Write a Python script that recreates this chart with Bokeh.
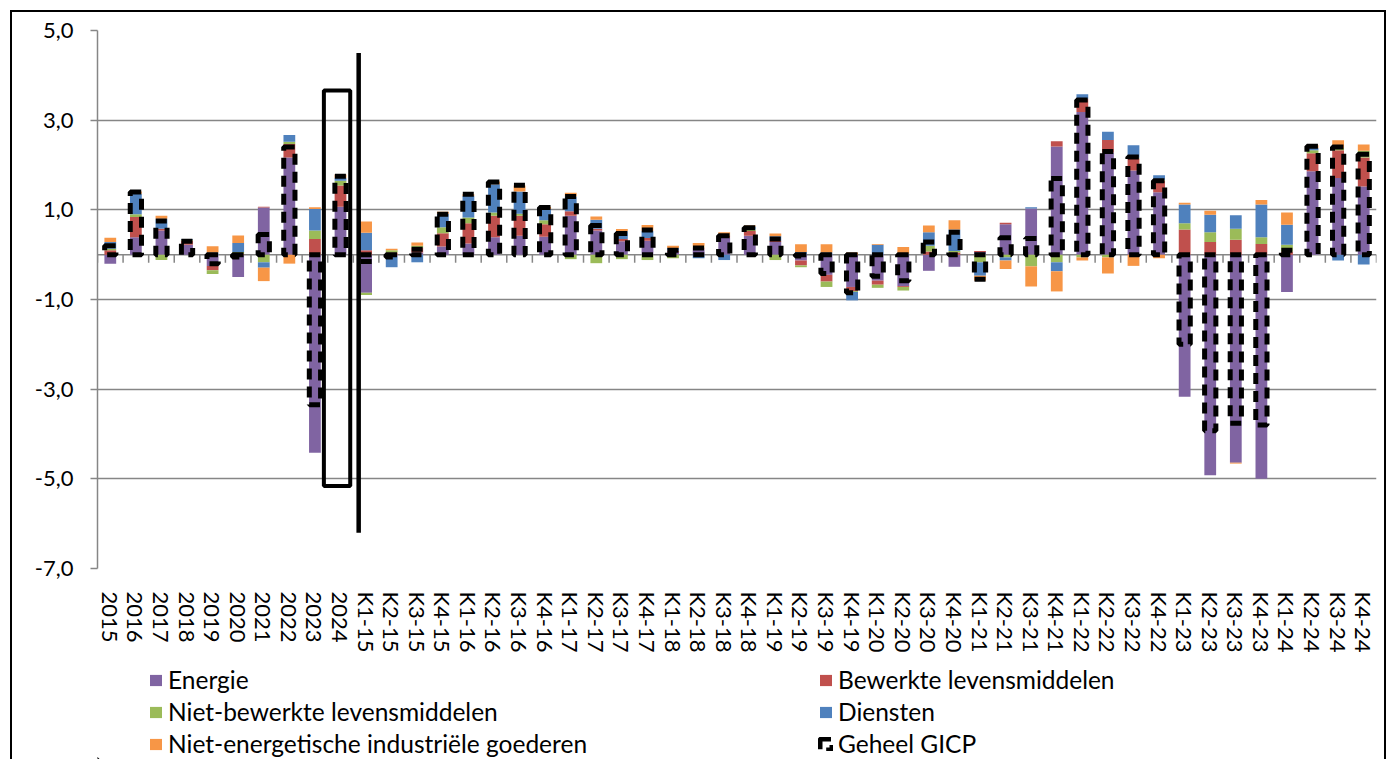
from bokeh.plotting import figure
from bokeh.layouts import column
from bokeh.models import (ColumnDataSource, FactorRange, FixedTicker, Legend, LegendItem,
                          Span, Range1d)
from bokeh.transform import dodge
from bokeh.embed import file_html
from bokeh.resources import INLINE

# ---------------- data ----------------
years = ["2015", "2016", "2017", "2018", "2019", "2020", "2021", "2022", "2023", "2024"]
quarters = [f"K{q}-{y}" for y in range(15, 25) for q in range(1, 5)]
cats = years + quarters

energie = [-0.20, 0.39, 0.54, 0.22, -0.25, -0.50, 1.05, 2.17, -4.42, 1.07,
           -0.85, -0.03, 0.05, 0.18, 0.25, 0.39, 0.42, 0.40, 0.87, 0.54, 0.30, 0.31,
           0.06, 0.12, 0.38, 0.42, 0.28, -0.13, -0.45, -0.72, -0.58, -0.70, -0.36, -0.27,
           0.06, 0.68, 1.03, 2.41, 3.18, 2.28, 1.88, 1.39, -3.17, -4.92, -4.64, -5.00,
           -0.83, 1.86, 1.71, 1.52]
bewerkte = [0.10, 0.45, 0.04, 0.09, -0.10, 0.02, 0.02, 0.30, 0.35, 0.47,
            0.10, 0.05, 0.10, 0.30, 0.45, 0.48, 0.45, 0.28, 0.10, 0.04, 0.05, 0.06,
            0.03, 0.04, 0.05, 0.11, 0.03, -0.11, -0.15, -0.09, -0.09, -0.02, 0.07, 0.05,
            0.02, 0.03, 0.00, 0.12, 0.30, 0.28, 0.26, 0.26, 0.56, 0.28, 0.33, 0.24,
            0.07, 0.40, 0.62, 0.65]
niet_bewerkte = [0.03, 0.06, -0.12, 0.02, -0.08, 0.04, -0.17, 0.05, 0.19, 0.11,
                 -0.05, 0.05, 0.05, 0.13, 0.13, 0.07, 0.04, 0.09, -0.10, -0.19, -0.10, -0.12,
                 -0.08, 0.02, 0.02, 0.03, -0.12, -0.04, -0.12, -0.02, -0.07, -0.08, 0.13, 0.03,
                 -0.17, -0.06, -0.26, -0.17, -0.06, -0.06, 0.02, 0.02, 0.14, 0.22, 0.25, 0.15,
                 0.15, 0.07, 0.05, 0.15]
diensten = [0.15, 0.46, 0.22, 0.02, 0.05, 0.20, -0.12, 0.15, 0.48, 0.06,
            0.39, -0.25, -0.17, 0.30, 0.48, 0.63, 0.50, 0.25, 0.33, 0.20, 0.17, 0.16,
            0.06, -0.08, -0.12, 0.07, 0.10, 0.06, 0.05, -0.19, 0.22, 0.02, 0.30, 0.48,
            -0.30, -0.07, 0.03, -0.20, 0.10, 0.18, 0.28, 0.10, 0.42, 0.39, 0.30, 0.73,
            0.45, 0.05, -0.13, -0.22]
niet_energetisch = [0.10, 0.05, 0.07, 0.00, 0.14, 0.17, -0.30, -0.20, 0.04, 0.08,
                    0.25, 0.03, 0.07, 0.05, 0.04, 0.06, 0.13, 0.05, 0.08, 0.07, 0.05, 0.13,
                    0.05, 0.08, 0.05, 0.02, 0.06, 0.17, 0.18, 0.05, 0.02, 0.15, 0.15, 0.21,
                    -0.11, -0.19, -0.45, -0.45, -0.07, -0.36, -0.25, -0.08, 0.04, 0.09, -0.02, 0.10,
                    0.27, 0.06, 0.17, 0.14]
geheel = [0.20, 1.40, 0.75, 0.30, -0.20, -0.05, 0.45, 2.40, -3.35, 1.75,
          -0.15, -0.05, 0.12, 0.90, 1.35, 1.62, 1.55, 1.05, 1.30, 0.65, 0.47, 0.55,
          0.10, 0.15, 0.42, 0.60, 0.35, -0.03, -0.42, -0.85, -0.48, -0.58, 0.28, 0.50,
          -0.55, 0.38, 0.36, 1.70, 3.45, 2.30, 2.18, 1.65, -2.00, -3.93, -3.76, -3.80,
          0.10, 2.42, 2.40, 2.24]

series_names = ["Energie", "Bewerkte levensmiddelen", "Niet-bewerkte levensmiddelen",
                "Diensten", "Niet-energetische industriële goederen"]
series_values = [energie, bewerkte, niet_bewerkte, diensten, niet_energetisch]
series_colors = ["#8064A2", "#C0504D", "#9BBB59", "#4F81BD", "#F79646"]
total_name = "Geheel GICP"

yticks = [-7, -5, -3, -1, 1, 3, 5]
yticklabels = ["-7,0", "-5,0", "-3,0", "-1,0", "1,0", "3,0", "5,0"]

# legend columns
legend_col1 = ["Energie", "Niet-bewerkte levensmiddelen", "Niet-energetische industriële goederen"]
legend_col2 = ["Bewerkte levensmiddelen", "Diensten", total_name]

# annotation shapes drawn on the chart (around 2024 and separator)
MARK_CAT = "2024"
BOX_LEFT, BOX_RIGHT, BOX_BOTTOM, BOX_TOP = -0.65, 0.38, -5.16, 3.66
VLINE_OFFSET, VLINE_BOTTOM, VLINE_TOP = 0.71, -6.2, 4.5

FONT = "Lato"
GRID = "#868686"
TOTAL_STYLE = dict(fill_color=None, line_color="black", line_width=5, line_dash="11 7")

# ---------------- main chart ----------------
p = figure(x_range=FactorRange(*cats), y_range=(-7, 5),
           frame_width=1279, frame_height=538,
           min_border_left=85, min_border_right=8, min_border_top=18, min_border_bottom=95,
           output_backend="svg", toolbar_location=None)
p.outline_line_color = None
p.xgrid.grid_line_color = None
p.ygrid.grid_line_color = GRID
p.ygrid.grid_line_width = 1.5

p.yaxis.ticker = FixedTicker(ticks=yticks)
p.yaxis.major_label_overrides = {t: l for t, l in zip(yticks, yticklabels)}
p.yaxis.axis_line_color = GRID
p.yaxis.axis_line_width = 1.5
p.yaxis.major_tick_line_color = GRID
p.yaxis.major_tick_line_width = 1.5
p.yaxis.major_tick_out = 7
p.yaxis.major_tick_in = 0
p.yaxis.minor_tick_line_color = None
p.yaxis.major_label_standoff = 17
p.yaxis.major_label_text_font = FONT
p.yaxis.major_label_text_font_size = "22px"
p.yaxis.major_label_text_color = "black"

p.xaxis.axis_line_color = None
p.xaxis.major_tick_line_color = None
p.xaxis.major_label_orientation = "vertical"
p.xaxis.major_label_standoff = 17
p.xaxis.major_label_text_font = FONT
p.xaxis.major_label_text_font_size = "22px"
p.xaxis.major_label_text_color = "black"

# zero axis with category-boundary ticks
p.add_layout(Span(location=0, dimension="width", line_color=GRID, line_width=1.5, level="underlay"))
tick_src = ColumnDataSource(dict(cat=cats))
p.segment(x0=dodge("cat", -0.5, range=p.x_range), x1=dodge("cat", -0.5, range=p.x_range),
          y0=0, y1=-0.18, line_color=GRID, line_width=1.5, source=tick_src, level="underlay")
last_src = ColumnDataSource(dict(cat=[cats[-1]]))
p.segment(x0=dodge("cat", 0.5, range=p.x_range), x1=dodge("cat", 0.5, range=p.x_range),
          y0=0, y1=-0.18, line_color=GRID, line_width=1.5, source=last_src, level="underlay")

# stacked bars (positives up, negatives down, like Excel)
n = len(cats)
pos = [0.0] * n
neg = [0.0] * n
for name, vals, color in zip(series_names, series_values, series_colors):
    bottoms, tops = [], []
    for i, v in enumerate(vals):
        if v >= 0:
            b = pos[i]; t = b + v; pos[i] = t
        else:
            b = neg[i]; t = b + v; neg[i] = t
        bottoms.append(b); tops.append(t)
    src = ColumnDataSource(dict(cat=cats, bottom=bottoms, top=tops))
    p.vbar(x="cat", bottom="bottom", top="top", width=0.46,
           fill_color=color, line_color=None, source=src)

tot_src = ColumnDataSource(dict(cat=cats, top=geheel))
p.vbar(x="cat", bottom=0, top="top", width=0.44, source=tot_src, **TOTAL_STYLE)

# annotations
mark_src = ColumnDataSource(dict(cat=[MARK_CAT]))
p.quad(left=dodge("cat", BOX_LEFT, range=p.x_range), right=dodge("cat", BOX_RIGHT, range=p.x_range),
       bottom=BOX_BOTTOM, top=BOX_TOP, fill_color=None, line_color="black", line_width=4,
       source=mark_src)
p.segment(x0=dodge("cat", VLINE_OFFSET, range=p.x_range), x1=dodge("cat", VLINE_OFFSET, range=p.x_range),
          y0=VLINE_BOTTOM, y1=VLINE_TOP, line_color="black", line_width=4.5, source=mark_src)

# ---------------- legend strip ----------------
lf = figure(x_range=Range1d(0, 1), y_range=Range1d(0, 1), frame_width=1372, frame_height=96,
            min_border=0, x_axis_location=None, y_axis_location=None,
            output_backend="svg", toolbar_location=None)
lf.outline_line_color = None
lf.xgrid.grid_line_color = None
lf.ygrid.grid_line_color = None

# proxy renderers for the legend swatches (one point each, kept far outside the visible range)
proxy = dict(x=[-50.0], top=[-50.0])
leg_renderers = {}
for name, color in zip(series_names, series_colors):
    leg_renderers[name] = lf.vbar(x="x", top="top", bottom=-51, width=0.5, fill_color=color,
                                  line_color=None, source=ColumnDataSource(proxy))
leg_renderers[total_name] = lf.vbar(x="x", top="top", bottom=-51, width=0.5,
                                    source=ColumnDataSource(proxy), **TOTAL_STYLE)

def make_legend(names, x):
    return Legend(items=[LegendItem(label=nm, renderers=[leg_renderers[nm]]) for nm in names],
                  orientation="vertical", location=(x, 1), spacing=3, padding=0, margin=0,
                  glyph_width=15, glyph_height=14, label_standoff=5,
                  label_text_font=FONT, label_text_font_size="24.5px", label_text_color="black",
                  border_line_color=None, background_fill_alpha=0)

lf.add_layout(make_legend(legend_col1, 136))
lf.add_layout(make_legend(legend_col2, 806))

page = column(p, lf, spacing=0)
page.styles = {"margin-left": "10px", "margin-top": "10px",
               "border-top": "2px solid black", "border-left": "2px solid black",
               "border-right": "2px solid black"}

open("out.html", "w").write(file_html(page, INLINE))
